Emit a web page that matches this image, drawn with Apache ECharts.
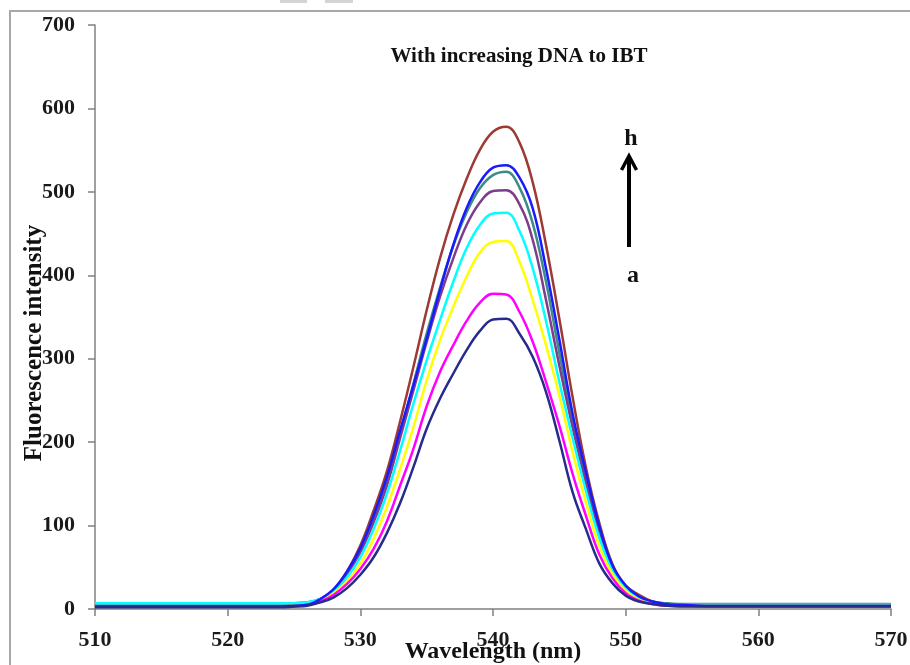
<!DOCTYPE html>
<html>
<head>
<meta charset="utf-8">
<title>Fluorescence spectra</title>
<script src="https://cdn.jsdelivr.net/npm/echarts@6.0.0/dist/echarts.min.js"></script>
<style>
  html, body { margin: 0; padding: 0; background: #fff; }
  #chart { width: 910px; height: 665px; }
</style>
</head>
<body>
<div id="chart"></div>
<script>
// 波长（nm），峰区每 1 nm 一个点
var wavelengths = [510, 515, 520, 524, 525, 526,
  527, 528, 529, 530, 531, 532, 533, 534, 535, 536, 537, 538, 539, 540,
  541, 542, 543, 544, 545, 546, 547, 548, 549, 550, 551, 552, 553,
  554, 556, 560, 565, 570];

// a -> h：DNA 浓度逐渐增加
var curveA = [2, 2, 2, 2, 3, 4,
  8, 14, 25, 41, 62, 91, 127, 170, 216, 252, 282, 310, 333, 347,
  348, 330, 302, 260, 202, 140, 96, 55, 31, 16, 9, 6, 4,
  3, 3, 3, 3, 3];
var curveB = [3, 3, 3, 3, 3, 5,
  9, 17, 30, 48, 72, 105, 148, 192, 243, 284, 316, 345, 367, 378,
  377, 356, 320, 272, 220, 162, 112, 66, 37, 19, 10, 6, 4,
  4, 3, 3, 3, 3];
var curveC = [3, 3, 3, 3, 4, 5,
  10, 19, 33, 54, 84, 122, 168, 218, 274, 322, 362, 398, 427, 440,
  441, 416, 370, 316, 256, 188, 128, 76, 42, 22, 11, 7, 5,
  4, 4, 4, 4, 4];
var curveD = [7, 7, 7, 7, 7, 8,
  12, 21, 38, 62, 96, 138, 190, 246, 298, 346, 392, 432, 460, 474,
  475, 453, 408, 345, 272, 205, 142, 86, 47, 25, 13, 8, 6,
  5, 5, 5, 5, 5];
var curveE = [4, 4, 4, 4, 4, 6,
  12, 22, 42, 68, 104, 148, 205, 262, 320, 374, 420, 460, 487, 501,
  502, 485, 442, 370, 292, 218, 152, 92, 49, 26, 14, 8, 5,
  4, 4, 4, 4, 4];
var curveF = [7, 7, 7, 7, 7, 8,
  12, 23, 43, 70, 108, 152, 210, 270, 330, 385, 435, 475, 504, 520,
  524, 505, 462, 392, 307, 226, 157, 95, 50, 27, 14, 9, 7,
  6, 6, 6, 6, 6];
var curveG = [3, 3, 3, 3, 4, 5,
  12, 24, 45, 73, 112, 158, 214, 268, 324, 382, 436, 480, 511, 529,
  532, 517, 480, 408, 323, 234, 164, 100, 52, 28, 15, 9, 6,
  5, 4, 4, 4, 4];
var curveH = [3, 3, 3, 3, 4, 6,
  12, 23, 45, 76, 118, 165, 225, 290, 358, 420, 472, 515, 550, 572,
  578, 559, 511, 436, 348, 254, 170, 104, 54, 28, 17, 9, 6,
  5, 4, 4, 4, 4];

var xTicks = [510, 520, 530, 540, 550, 560, 570];
var yTicks = [0, 100, 200, 300, 400, 500, 600, 700];

var serif = "'Liberation Serif', 'Times New Roman', serif";

// 组合成 [x, y]
function pairs(values) {
  var out = [];
  for (var i = 0; i < wavelengths.length; i++) {
    out.push([wavelengths[i], values[i]]);
  }
  return out;
}

// 画线顺序：后画的在上层
var lines = [
  {name: 'h', data: curveH, color: '#9C3A33'},
  {name: 'f', data: curveF, color: '#3C8C85'},
  {name: 'e', data: curveE, color: '#7D3C8C'},
  {name: 'd', data: curveD, color: '#00FFFF'},
  {name: 'c', data: curveC, color: '#FFFF00'},
  {name: 'b', data: curveB, color: '#FF00FF'},
  {name: 'g', data: curveG, color: '#1A1AFF'},
  {name: 'a', data: curveA, color: '#262B8C'}
];

var series = [];
for (var i = 0; i < lines.length; i++) {
  series.push({
    name: lines[i].name,
    type: 'line',
    data: pairs(lines[i].data),
    smooth: 0.4,
    showSymbol: false,
    lineStyle: {color: lines[i].color, width: 2.5},
    itemStyle: {color: lines[i].color},
    emphasis: {disabled: true}
  });
}

var txt = function (s, x, y, size, rot) {
  return {type: 'text', x: x, y: y, rotation: rot || 0,
    style: {text: s, fill: '#111', font: 'bold ' + size + 'px ' + serif,
      align: 'center', verticalAlign: 'middle', textAlign: 'center', textVerticalAlign: 'middle'}};
};

var chart = echarts.init(document.getElementById('chart'), null, {renderer: 'canvas'});

chart.setOption({
  animation: false,
  backgroundColor: '#fff',
  grid: {left: 95, right: 19, top: 25, bottom: 56, outerBoundsMode: 'none', containLabel: false},
  xAxis: {
    type: 'value',
    min: xTicks[0],
    max: xTicks[xTicks.length - 1],
    interval: 10,
    name: 'Wavelength (nm)',
    nameLocation: 'middle',
    nameGap: 31,
    nameMoveOverlap: false,
    nameTextStyle: {fontFamily: serif, fontWeight: 'bold', fontSize: 24, color: '#111'},
    axisLine: {lineStyle: {color: '#808080', width: 1.5}},
    axisTick: {inside: false, length: 7, lineStyle: {color: '#808080', width: 1.5}},
    axisLabel: {fontFamily: serif, fontWeight: 'bold', fontSize: 22, color: '#1a1a1a', margin: 20},
    splitLine: {show: false}
  },
  yAxis: {
    type: 'value',
    min: yTicks[0],
    max: yTicks[yTicks.length - 1],
    interval: 100,
    axisLine: {show: true, lineStyle: {color: '#808080', width: 1.5}},
    axisTick: {show: true, inside: false, length: 7, lineStyle: {color: '#808080', width: 1.5}},
    axisLabel: {fontFamily: serif, fontWeight: 'bold', fontSize: 22, color: '#1a1a1a', margin: 20},
    splitLine: {show: false}
  },
  graphic: [
    // 外框
    {type: 'rect', shape: {x: 10, y: 11, width: 940, height: 700},
      style: {fill: null, stroke: '#a8a8a8', lineWidth: 2}, silent: true},
    // 顶部的灰色残影
    {type: 'rect', shape: {x: 280, y: 0, width: 27, height: 3}, style: {fill: '#d4d4d4'}, silent: true},
    {type: 'rect', shape: {x: 325, y: 0, width: 28, height: 3}, style: {fill: '#d4d4d4'}, silent: true},
    // y 轴标题（原图中偏下，与刻度数字重叠）
    txt('Fluorescence intensity', 35, 343, 25, Math.PI / 2),
    // 标题
    txt('With increasing DNA to IBT', 519, 57, 21),
    // 箭头 a -> h
    {type: 'line', shape: {x1: 629, y1: 247, x2: 629, y2: 157},
      style: {stroke: '#000', lineWidth: 4}},
    {type: 'polyline', shape: {points: [[621.5, 170], [629, 156], [636.5, 170]]},
      style: {stroke: '#000', fill: null, lineWidth: 3.5}},
    txt('h', 631, 139, 24),
    txt('a', 633, 276, 24)
  ],
  series: series
});
</script>
</body>
</html>
